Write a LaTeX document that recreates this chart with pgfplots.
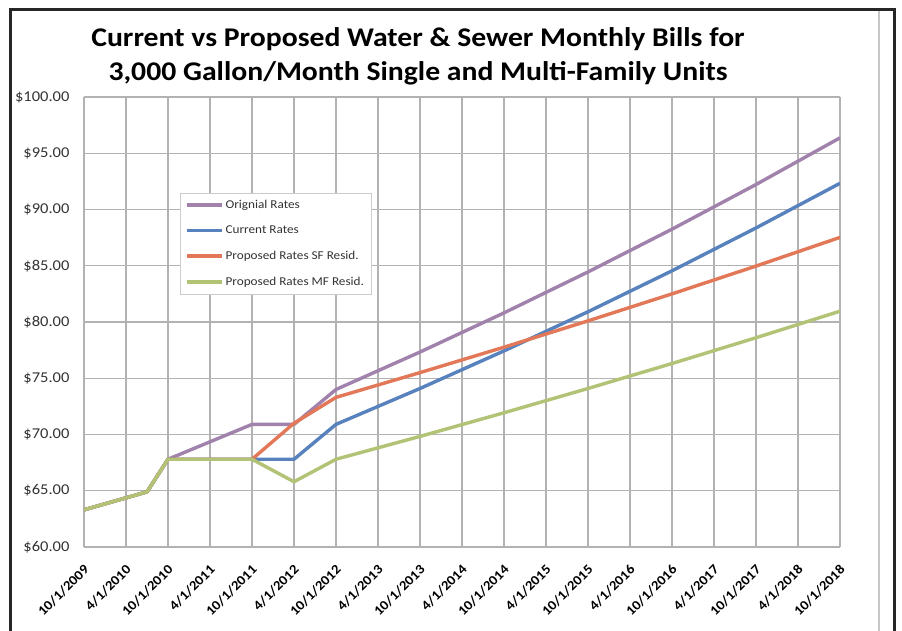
\documentclass[border=0pt]{standalone}
\usepackage{fontspec}
\setmainfont{Carlito}[FakeStretch=1.1]
\usepackage{pgfplots}
\pgfplotsset{compat=1.18}

\definecolor{origc}{RGB}{160,130,172}
\definecolor{currc}{RGB}{88,130,190}
\definecolor{sfc}{RGB}{226,120,88}
\definecolor{mfc}{RGB}{178,195,118}
\definecolor{gridc}{RGB}{178,178,178}

\begin{document}
\begin{tikzpicture}
\useasboundingbox (0,0) rectangle (902pt,631pt);
\fill[white] (0,0) rectangle (902pt,631pt);

% title
\node[anchor=base, font=\bfseries\fontsize{27}{30}\selectfont] at (418pt,584pt)
  {Current vs Proposed Water \& Sewer Monthly Bills for};
\node[anchor=base, font=\bfseries\fontsize{27}{30}\selectfont] at (418pt,550pt)
  {3,000 Gallon/Month Single and Multi-Family Units};

\begin{axis}[
    at={(84pt,84pt)}, anchor=south west,
    scale only axis,
    width=756pt, height=450pt,
    xmin=0, xmax=18, ymin=60, ymax=100,
    xtick={0,...,18},
    xticklabels={10/1/2009,4/1/2010,10/1/2010,4/1/2011,10/1/2011,4/1/2012,
      10/1/2012,4/1/2013,10/1/2013,4/1/2014,10/1/2014,4/1/2015,10/1/2015,
      4/1/2016,10/1/2016,4/1/2017,10/1/2017,4/1/2018,10/1/2018},
    ytick={60,65,...,100},
    yticklabels={\$60.00,\$65.00,\$70.00,\$75.00,\$80.00,\$85.00,\$90.00,\$95.00,\$100.00},
    grid=major,
    major grid style={gridc, line width=1.3pt},
    axis line style={draw=none},
    major tick length=0pt,
    yticklabel style={font=\fontsize{15}{17}\selectfont, text=black!80, xshift=-11pt},
    xticklabel style={font=\bfseries\fontsize{13.5}{16}\selectfont,
      xshift=-1pt, yshift=-12pt, rotate=45, anchor=north east},
    legend style={at={(0.127,0.787)}, anchor=north west, draw=black!20,
      font=\fontsize{12}{14}\selectfont, text=black!80, row sep=12pt,
      inner sep=5pt},
    legend cell align=left,
    legend image code/.code={\draw[#1] (0pt,0pt) -- (35pt,0pt);},
    every axis plot/.append style={line width=3.4pt, line join=round},
]
\addplot[origc] coordinates {
(0,63.3) (1.5,64.9) (2,67.8) (4,70.9) (5,70.9) (6,74.0) (8,77.33)
(10,80.81) (12,84.45) (14,88.25) (16,92.22) (18,96.37)
};
\addplot[currc] coordinates {
(0,63.3) (1.5,64.9) (2,67.8) (4,67.8) (5,67.8) (6,70.9) (8,74.09)
(10,77.43) (12,80.91) (14,84.55) (16,88.36) (18,92.33)
};
\addplot[sfc] coordinates {
(0,63.3) (1.5,64.9) (2,67.8) (4,67.8) (5,71.0) (6,73.3) (8,75.50)
(10,77.76) (12,80.10) (14,82.50) (16,84.97) (18,87.52)
};
\addplot[mfc] coordinates {
(0,63.3) (1.5,64.9) (2,67.8) (4,67.8) (5,65.8) (6,67.8) (8,69.83)
(10,71.93) (12,74.09) (14,76.31) (16,78.60) (18,80.96)
};
\legend{Orignial Rates,Current Rates,Proposed Rates SF Resid.,Proposed Rates MF Resid.}
\end{axis}

% frame
\draw[line width=1.2pt, black!22] (879pt,0pt) -- (879pt,621pt);
\draw[line width=3pt, black!85] (10pt,0pt) -- (10pt,621pt) -- (894pt,621pt) -- (894pt,0pt);
\end{tikzpicture}
\end{document}
